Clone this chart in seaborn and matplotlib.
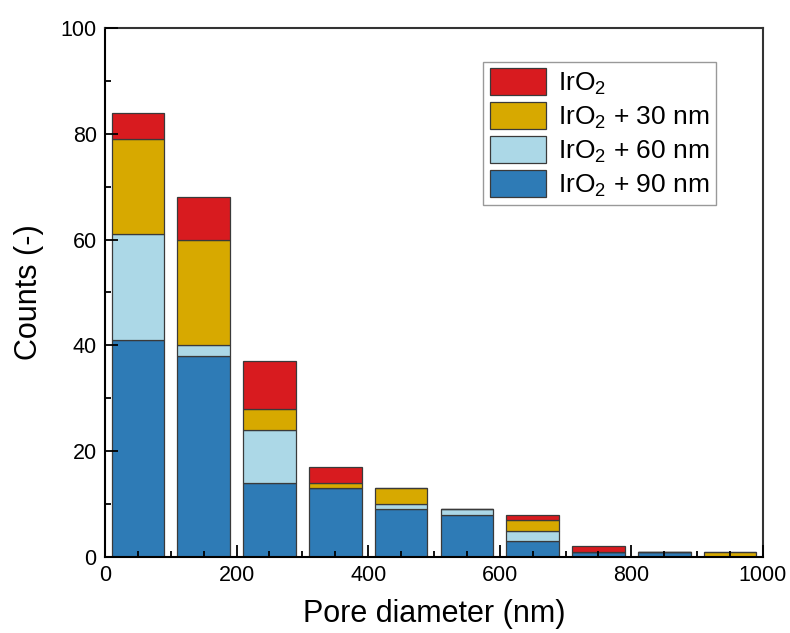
import numpy as np
import pandas as pd
import matplotlib
matplotlib.use("Agg")
import matplotlib.pyplot as plt
import seaborn as sns
from matplotlib.ticker import MultipleLocator

# ---- data ----
bin_centers = [50, 150, 250, 350, 450, 550, 650, 750, 850, 950]
samples = ["IrO$_2$", "IrO$_2$ + 30 nm", "IrO$_2$ + 60 nm", "IrO$_2$ + 90 nm"]
counts_iro2 = [5, 8, 9, 3, 0, 0, 1, 1, 0, 0]
counts_30 = [18, 20, 4, 1, 3, 0, 2, 0, 0, 1]
counts_60 = [20, 2, 10, 0, 1, 1, 2, 0, 0, 0]
counts_90 = [41, 38, 14, 13, 9, 8, 3, 1, 1, 0]
colors = ["#d81b1f", "#d7a900", "#acd8e7", "#2e7bb6"]

series = [counts_iro2, counts_30, counts_60, counts_90]
rows = []
for name, vals in zip(samples, series):
    for c, v in zip(bin_centers, vals):
        rows.append({"diameter": float(c), "count": float(v), "sample": name})
df = pd.DataFrame(rows)

sns.set_style("ticks")
plt.rcParams["font.family"] = ["Liberation Sans", "DejaVu Sans"]
plt.rcParams["mathtext.fontset"] = "custom"
plt.rcParams["mathtext.rm"] = "Liberation Sans"
plt.rcParams["mathtext.it"] = "Liberation Sans:italic"
plt.rcParams["mathtext.bf"] = "Liberation Sans:bold"
plt.rcParams["text.color"] = "black"
plt.rcParams["axes.labelcolor"] = "black"
plt.rcParams["xtick.color"] = "black"
plt.rcParams["ytick.color"] = "black"

fig = plt.figure(figsize=(7.9, 6.33), dpi=100)
ax = fig.add_axes([0.1329, 0.1201, 0.8329, 0.8357])

sns.histplot(
    data=df, x="diameter", weights="count", hue="sample",
    hue_order=samples, palette=colors, multiple="stack",
    binwidth=100, binrange=(0, 1000), shrink=0.8, alpha=1,
    edgecolor="#3a3a3a", linewidth=0.9, ax=ax, legend=True,
)

ax.set_xlim(0, 1000)
ax.set_ylim(0, 100)
ax.xaxis.set_major_locator(MultipleLocator(200))
ax.xaxis.set_minor_locator(MultipleLocator(50))
ax.yaxis.set_major_locator(MultipleLocator(20))
ax.yaxis.set_minor_locator(MultipleLocator(10))
ax.tick_params(axis="both", which="major", direction="in", length=9, width=1.3,
               labelsize=15.5, color="black", labelcolor="black", pad=6,
               top=False, right=False)
ax.tick_params(axis="both", which="minor", direction="in", length=4.5, width=1.3,
               color="black", top=False, right=False)
ax.set_axisbelow(False)

for side in ["left", "bottom"]:
    ax.spines[side].set_linewidth(1.5)
    ax.spines[side].set_color("black")
for side in ["top", "right"]:
    ax.spines[side].set_visible(True)
    ax.spines[side].set_linewidth(1.5)
    ax.spines[side].set_color("#333333")

ax.set_xlabel("Pore diameter (nm)", fontsize=22, labelpad=9, color="black")
ax.set_ylabel("Counts (-)", fontsize=22, labelpad=12, color="black")

sns.move_legend(
    ax, "upper right", bbox_to_anchor=(0.929, 0.936), title=None,
    frameon=True, fancybox=False, framealpha=1, edgecolor="#999999",
    fontsize=19, handlelength=2.15, handleheight=1.2, labelspacing=0.2,
    handletextpad=0.45, borderpad=0.25, borderaxespad=0,
)
leg = ax.get_legend()
leg.get_frame().set_linewidth(1.0)
for t in leg.get_texts():
    t.set_color("black")

fig.savefig("out.png", dpi=100)
